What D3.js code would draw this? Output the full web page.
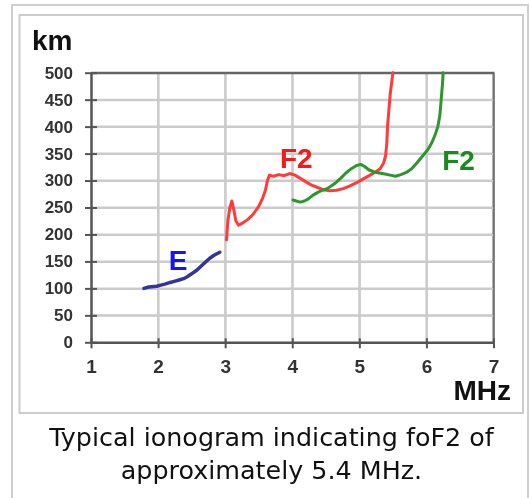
<!DOCTYPE html>
<html>
<head>
<meta charset="utf-8">
<script src="https://cdn.jsdelivr.net/npm/d3@7/dist/d3.min.js"></script>
<style>
  html, body { margin: 0; padding: 0; background: #fff; }
  #wrap { position: relative; width: 530px; height: 498px; }
  #bg, #chart { position: absolute; left: 0; top: 0; display: block; }
</style>
</head>
<body>
<div id="wrap">
<canvas id="bg" width="530" height="498"></canvas>
<svg id="chart" width="530" height="498"></svg>
</div>
<script>
// ---- data ----
const xTicks = [1, 2, 3, 4, 5, 6, 7];
const yTicks = [0, 50, 100, 150, 200, 250, 300, 350, 400, 450, 500];
const xUnit = "MHz";
const yUnit = "km";
const captionLines = ["Typical ionogram indicating foF2 of", "approximately 5.4 MHz."];

// E layer trace [MHz, km]
const eFreq   = [1.79, 1.84, 1.90, 1.98, 2.04, 2.10, 2.18, 2.24, 2.30, 2.38, 2.44, 2.50, 2.58, 2.64, 2.70, 2.77, 2.84, 2.92];
const eHeight = [100,  102,  103,  104,  106,  108,  111,  113,  115,  118,  122,  127,  134,  141,  148,  156,  162,  167];

// F2 ordinary trace (red)
const f2oFreq   = [3.02, 3.04, 3.07, 3.10, 3.13, 3.16, 3.20, 3.27, 3.34, 3.42, 3.50, 3.56, 3.60, 3.63, 3.66, 3.72, 3.80, 3.88, 3.96, 4.04, 4.12, 4.20, 4.28, 4.36, 4.46, 4.56, 4.66, 4.76, 4.86, 4.96, 5.06, 5.16, 5.24, 5.31, 5.36, 5.39, 5.41, 5.42, 5.44, 5.46, 5.48, 5.50];
const f2oHeight = [190,  225,  250,  262,  245,  225,  217,  222,  228,  238,  252,  268,  282,  300,  310,  308,  311,  309,  313,  310,  304,  298,  292,  288,  283,  281,  282,  285,  290,  296,  303,  310,  316,  322,  332,  345,  370,  400,  430,  460,  480,  500];

// F2 extraordinary trace (green)
const f2xFreq   = [4.01, 4.06, 4.12, 4.18, 4.24, 4.31, 4.38, 4.45, 4.52, 4.58, 4.65, 4.72, 4.80, 4.88, 4.96, 5.02, 5.08, 5.14, 5.22, 5.30, 5.38, 5.46, 5.54, 5.62, 5.70, 5.78, 5.86, 5.94, 6.02, 6.08, 6.13, 6.17, 6.20, 6.22, 6.24, 6.25];
const f2xHeight = [264,  262,  260,  262,  266,  273,  278,  282,  285,  290,  296,  304,  314,  322,  328,  330,  326,  320,  316,  314,  312,  310,  308,  311,  315,  322,  333,  345,  357,  370,  385,  400,  420,  450,  480,  500];

const labelText  = ["E", "F2", "F2"];
const labelFreq  = [2.30, 4.06, 6.48];
const labelKm    = [134, 323, 320];
const labelColor = ["#1414f5", "#f51a1a", "#1a8a1a"];

// ---- scales ----
const x = d3.scaleLinear().domain([1, 7]).range([91, 493.5]);
const y = d3.scaleLinear().domain([0, 500]).range([342.3, 72.7]);
const W = x(7) - x(1), H = y(0) - y(500);

// ---- background grid on canvas (positions from the D3 scales) ----
const ctx = document.getElementById("bg").getContext("2d");
ctx.fillStyle = "#fff";
ctx.fillRect(0, 0, 530, 498);
ctx.strokeStyle = "#cbcbcb";
ctx.lineWidth = 2;
ctx.beginPath();
xTicks.slice(1, -1).forEach(t => { ctx.moveTo(x(t), y(0)); ctx.lineTo(x(t), y(500)); });
yTicks.slice(1, -1).forEach(t => { ctx.moveTo(x(1), y(t)); ctx.lineTo(x(7), y(t)); });
ctx.stroke();
ctx.strokeStyle = "#666";
ctx.beginPath();
ctx.moveTo(x(1), y(500)); ctx.lineTo(x(7), y(500)); ctx.lineTo(x(7), y(0));
ctx.stroke();

// ---- svg ----
const svg = d3.select("#chart");
const FONT = "Liberation Sans, Arial, sans-serif";

// frames
svg.append("rect").attr("x", 12).attr("y", 5).attr("width", 516).attr("height", 510)
  .attr("fill", "none").attr("stroke", "#cfcfcf").attr("stroke-width", 2);
svg.append("rect").attr("x", 19.5).attr("y", 15).attr("width", 503.5).attr("height", 398)
  .attr("fill", "none").attr("stroke", "#cccccc").attr("stroke-width", 2);

// grid also as long inner ticks of axes
const gridX = svg.append("g").attr("transform", `translate(0,${y(0)})`)
  .call(d3.axisTop(x).tickValues(xTicks.slice(1, -1)).tickSizeInner(H).tickSizeOuter(0).tickFormat(""));
gridX.select(".domain").remove();
gridX.selectAll(".tick line").attr("stroke", "#cbcbcb").attr("stroke-width", 2);
const gridY = svg.append("g").attr("transform", `translate(${x(1)},0)`)
  .call(d3.axisRight(y).tickValues(yTicks.slice(1, -1)).tickSizeInner(W).tickSizeOuter(0).tickFormat(""));
gridY.select(".domain").remove();
gridY.selectAll(".tick line").attr("stroke", "#cbcbcb").attr("stroke-width", 2);
const topB = svg.append("g").attr("transform", `translate(0,${y(500)})`)
  .call(d3.axisTop(x).tickValues([]).tickSizeOuter(0));
topB.select(".domain").attr("stroke", "#666").attr("stroke-width", 2);
const rightB = svg.append("g").attr("transform", `translate(${x(7)},0)`)
  .call(d3.axisRight(y).tickValues([]).tickSizeOuter(0));
rightB.select(".domain").attr("stroke", "#777").attr("stroke-width", 1.5);

// axes
const axColor = "#555";
const yAxis = svg.append("g").attr("transform", `translate(${x(1)},0)`)
  .call(d3.axisLeft(y).tickValues(yTicks).tickSize(6).tickSizeOuter(0).tickPadding(12).tickFormat(d3.format("d")));
const yIn = svg.append("g").attr("transform", `translate(${x(1)},0)`)
  .call(d3.axisRight(y).tickValues(yTicks).tickSize(6).tickFormat(""));
yIn.select(".domain").remove();
const xAxis = svg.append("g").attr("transform", `translate(0,${y(0)})`)
  .call(d3.axisBottom(x).tickValues(xTicks).tickSize(6).tickSizeOuter(0).tickPadding(11).tickFormat(d3.format("d")));
const xIn = svg.append("g").attr("transform", `translate(0,${y(0)})`)
  .call(d3.axisTop(x).tickValues(xTicks).tickSize(4).tickFormat(""));
xIn.select(".domain").remove();

[yAxis, xAxis].forEach(a => a.select(".domain").attr("stroke", axColor).attr("stroke-width", 2.5));
[yAxis, xAxis, yIn, xIn].forEach(a => a.selectAll(".tick line").attr("stroke", axColor).attr("stroke-width", 2));
yAxis.selectAll("text").attr("font-family", FONT)
  .attr("font-weight", "bold").attr("font-size", 17).attr("fill", "#333");
xAxis.selectAll("text").attr("font-family", FONT)
  .attr("font-weight", "bold").attr("font-size", 19).attr("fill", "#333");

// units
svg.append("text").attr("x", 32).attr("y", 50).text(yUnit)
  .attr("font-family", FONT).attr("font-weight", "bold")
  .attr("font-size", 28).attr("fill", "#111");
svg.append("text").attr("x", 511).attr("y", 400).attr("text-anchor", "end").text(xUnit)
  .attr("font-family", FONT).attr("font-weight", "bold")
  .attr("font-size", 28).attr("fill", "#111");

// traces
const line = d3.line().x(d => x(d[0])).y(d => y(d[1])).curve(d3.curveLinear);
const traces = [
  { f: eFreq, h: eHeight, color: "#34349a", w: 3.5 },
  { f: f2oFreq, h: f2oHeight, color: "#ff3c3c", w: 3 },
  { f: f2xFreq, h: f2xHeight, color: "#2e962e", w: 3 }
];
svg.selectAll("path.trace").data(traces).join("path")
  .attr("class", "trace")
  .attr("d", t => line(t.f.map((v, i) => [v, t.h[i]])))
  .attr("fill", "none").attr("stroke", t => t.color).attr("stroke-width", t => t.w)
  .attr("stroke-linejoin", "round").attr("stroke-linecap", "round");

// trace labels
svg.selectAll("text.tl").data(labelText).join("text")
  .attr("class", "tl")
  .attr("x", (d, i) => x(labelFreq[i])).attr("y", (d, i) => y(labelKm[i]))
  .attr("text-anchor", "middle").text(d => d)
  .attr("font-family", FONT).attr("font-weight", "bold")
  .attr("font-size", 28).attr("fill", (d, i) => labelColor[i]);

// caption
svg.selectAll("text.cap").data(captionLines).join("text")
  .attr("class", "cap")
  .attr("x", 271.5).attr("y", (d, i) => 446 + i * 32.5)
  .attr("text-anchor", "middle").text(d => d)
  .attr("font-family", "DejaVu Sans, sans-serif").attr("font-size", 25.4).attr("fill", "#111");
</script>
</body>
</html>
